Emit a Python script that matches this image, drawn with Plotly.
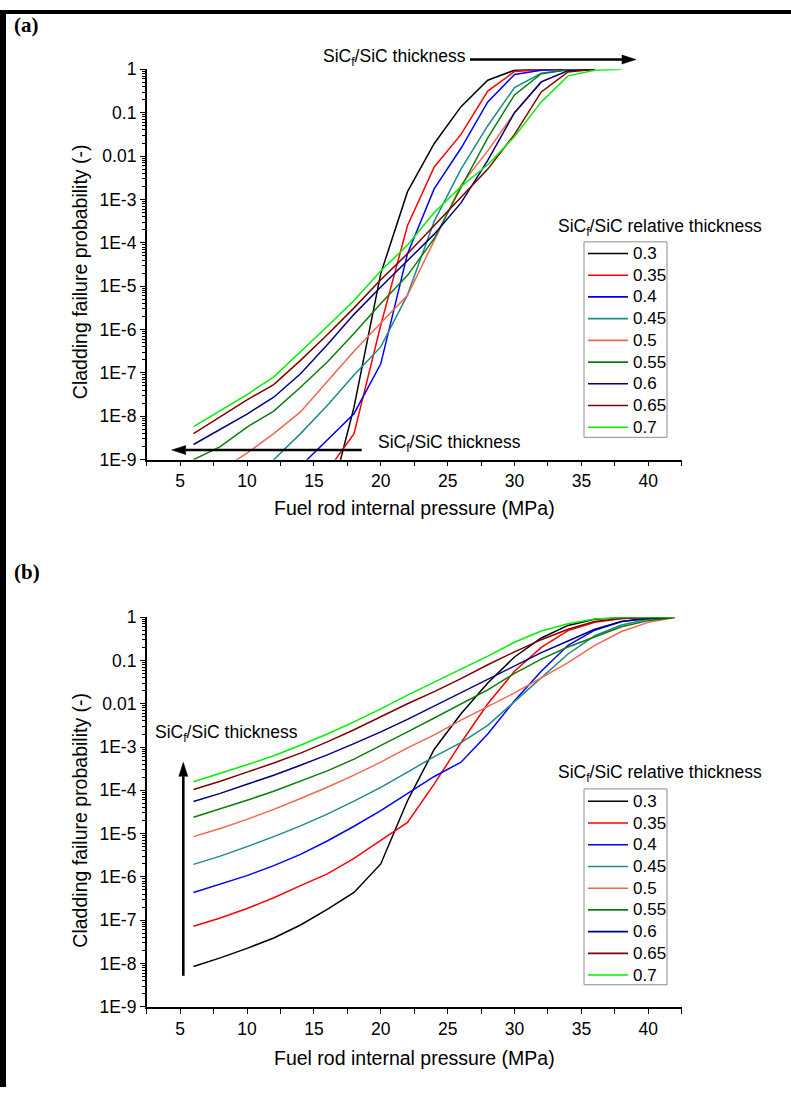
import plotly.graph_objects as go

# ---------------- data ----------------
THICKNESS = ["0.3", "0.35", "0.4", "0.45", "0.5", "0.55", "0.6", "0.65", "0.7"]
COLORS = ["#000000", "#FF0000", "#0000FF", "#1E8A8A", "#F2674F",
          "#0A7F0A", "#00007F", "#7F0000", "#00F000"]

# Panel (a): log10 of failure probability
PRESSURE_A = [6, 8, 10, 12, 14, 16, 18, 20, 22, 24, 26, 28, 30, 32, 34, 36, 38]
A_030 = [None, None, None, None, None, -10.2, -7.79, -4.71, -2.82, -1.71, -0.86, -0.25, -0.02, 0, 0, 0, None]
A_035 = [None, None, None, None, None, -9.26, -8.4, -5.9, -3.6, -2.25, -1.5, -0.5, -0.05, -0.01, 0, 0, None]
A_040 = [None, None, None, None, -9.15, -8.55, -7.94, -6.79, -4.25, -2.75, -1.82, -0.75, -0.12, -0.02, 0, 0, None]
A_045 = [None, None, -9.6, -9.0, -8.4, -7.75, -7.05, -6.4, -5.2, -3.5, -2.3, -1.3, -0.42, -0.09, -0.01, 0, None]
A_050 = [None, -9.25, -8.85, -8.4, -7.9, -7.2, -6.5, -5.85, -5.21, -3.95, -2.67, -1.88, -1.0, -0.29, -0.03, 0, None]
A_055 = [-9.0, -8.7, -8.25, -7.88, -7.33, -6.75, -6.09, -5.4, -4.75, -3.9, -2.72, -1.58, -0.59, -0.1, -0.01, 0, None]
A_060 = [-8.65, -8.3, -7.95, -7.56, -7.02, -6.35, -5.65, -5.02, -4.42, -3.8, -3.08, -2.1, -1.0, -0.29, -0.03, 0, None]
A_065 = [-8.4, -8.0, -7.62, -7.27, -6.71, -6.12, -5.5, -4.85, -4.25, -3.6, -2.95, -2.3, -1.5, -0.52, -0.06, 0, None]
A_070 = [-8.24, -7.88, -7.5, -7.09, -6.52, -5.93, -5.33, -4.65, -4.05, -3.3, -2.7, -2.2, -1.55, -0.75, -0.15, -0.02, 0]

# Panel (b): log10 of failure probability
PRESSURE_B = [6, 8, 10, 12, 14, 16, 18, 20, 22, 24, 26, 28, 30, 32, 34, 36, 38, 40, 42]
B_030 = [-8.07, -7.87, -7.65, -7.41, -7.11, -6.75, -6.36, -5.70, -4.24, -3.05, -2.23, -1.52, -0.92, -0.48, -0.19, -0.05, -0.01, 0, 0]
B_035 = [-7.14, -6.95, -6.73, -6.48, -6.2, -5.93, -5.57, -5.16, -4.74, -3.85, -2.9, -2.0, -1.25, -0.7, -0.31, -0.12, -0.03, -0.01, 0]
B_040 = [-6.36, -6.17, -5.97, -5.74, -5.48, -5.17, -4.83, -4.47, -4.07, -3.68, -3.35, -2.7, -1.93, -1.25, -0.65, -0.3, -0.1, -0.02, 0]
B_045 = [-5.71, -5.52, -5.30, -5.07, -4.82, -4.55, -4.25, -3.93, -3.58, -3.22, -2.9, -2.5, -1.95, -1.4, -0.85, -0.43, -0.18, -0.05, 0]
B_050 = [-5.07, -4.88, -4.67, -4.44, -4.19, -3.93, -3.65, -3.35, -3.02, -2.72, -2.38, -2.07, -1.75, -1.4, -1.05, -0.65, -0.33, -0.12, -0.01]
B_055 = [-4.62, -4.43, -4.23, -4.02, -3.79, -3.55, -3.28, -2.97, -2.65, -2.33, -2.0, -1.68, -1.3, -0.97, -0.69, -0.45, -0.22, -0.08, 0]
B_060 = [-4.26, -4.07, -3.86, -3.65, -3.42, -3.18, -2.92, -2.65, -2.36, -2.05, -1.75, -1.43, -1.12, -0.82, -0.55, -0.28, -0.1, -0.03, 0]
B_065 = [-3.98, -3.79, -3.58, -3.37, -3.14, -2.88, -2.6, -2.3, -2.0, -1.72, -1.42, -1.1, -0.8, -0.52, -0.28, -0.1, -0.03, -0.01, 0]
B_070 = [-3.80, -3.61, -3.41, -3.2, -2.96, -2.7, -2.42, -2.12, -1.8, -1.5, -1.2, -0.9, -0.58, -0.32, -0.15, -0.04, -0.01, 0, 0]

Y_TICKVALS = [1, 0.1, 0.01, 1e-3, 1e-4, 1e-5, 1e-6, 1e-7, 1e-8, 1e-9]
Y_TICKTEXT = ["1", "0.1", "0.01", "1E-3", "1E-4", "1E-5", "1E-6", "1E-7", "1E-8", "1E-9"]
X_TICKVALS = [5, 10, 15, 20, 25, 30, 35, 40]
X_MINOR = [2.5, 7.5, 12.5, 17.5, 22.5, 27.5, 32.5, 37.5, 42.5]

SERIES_A = [A_030, A_035, A_040, A_045, A_050, A_055, A_060, A_065, A_070]
SERIES_B = [B_030, B_035, B_040, B_045, B_050, B_055, B_060, B_065, B_070]

W, H = 791, 1097
# the captured picture shows the page slightly squeezed vertically; map target pixels accordingly
V_OFF, V_SCALE = 10.0, 0.981

def px(x):
    return x / W

def py(y):
    return 1 - ((y - V_OFF) / V_SCALE) / H

def to_p(vals):
    return [None if v is None else 10 ** v for v in vals]

FONT = "Arial, Liberation Sans, sans-serif"

fig = go.Figure()
for name, col, ya in zip(THICKNESS, COLORS, SERIES_A):
    fig.add_trace(go.Scatter(x=PRESSURE_A, y=to_p(ya), mode="lines", name=name,
                             line=dict(color=col, width=1.5), xaxis="x", yaxis="y",
                             showlegend=False))
for name, col, yb in zip(THICKNESS, COLORS, SERIES_B):
    fig.add_trace(go.Scatter(x=PRESSURE_B, y=to_p(yb), mode="lines", name=name,
                             line=dict(color=col, width=1.5), xaxis="x2", yaxis="y2",
                             showlegend=False))

minor_y = [k * 10.0 ** e for e in range(-9, 0) for k in range(2, 10)]

def xaxis_cfg(anchor):
    return dict(domain=[px(146.7), px(681.7)], anchor=anchor, range=[2.5, 42.5],
                showgrid=False, zeroline=False, showline=True, linecolor="black", linewidth=1.6,
                ticks="outside", ticklen=5, tickwidth=1.3, tickcolor="black",
                tickvals=X_TICKVALS, tickfont=dict(family=FONT, size=17.5, color="black"),
                minor=dict(tickvals=X_MINOR, ticks="outside", ticklen=5, tickwidth=1.3,
                           tickcolor="black", showgrid=False))

def yaxis_cfg(anchor, top, bottom):
    return dict(domain=[py(bottom), py(top)], anchor=anchor, type="log", range=[-9, 0],
                showgrid=False, zeroline=False, showline=True, linecolor="black", linewidth=1.6,
                ticks="outside", ticklen=5, tickwidth=1.3, tickcolor="black",
                tickvals=Y_TICKVALS, ticktext=Y_TICKTEXT,
                tickfont=dict(family=FONT, size=17.5, color="black"),
                minor=dict(tickvals=minor_y, ticks="outside", ticklen=3, tickwidth=1,
                           tickcolor="black", showgrid=False))

fig.update_layout(
    width=W, height=H, margin=dict(l=0, r=0, t=0, b=0),
    paper_bgcolor="white", plot_bgcolor="white", showlegend=False,
    xaxis=xaxis_cfg("y"), yaxis=yaxis_cfg("x", 69.3, 459.3),
    xaxis2=xaxis_cfg("y2"), yaxis2=yaxis_cfg("x2", 616.7, 1006),
)

ann = []
shapes = []
# panel labels
for lab, yc in (("(a)", 25), ("(b)", 572)):
    ann.append(dict(text="<b>" + lab + "</b>", x=px(12), y=py(yc), xanchor="left", yanchor="middle",
                    font=dict(family="Liberation Serif, Times New Roman, serif", size=21, color="black")))
# axis titles
for yc in (272, 820):
    ann.append(dict(text="Cladding failure probability (-)", x=px(80), y=py(yc), textangle=-90,
                    xanchor="center", yanchor="middle", font=dict(family=FONT, size=19.5, color="black")))
for yc in (508, 1057):
    ann.append(dict(text="Fuel rod internal pressure (MPa)", x=px(414), y=py(yc),
                    xanchor="center", yanchor="middle", font=dict(family=FONT, size=19.5, color="black")))

# legends (title above a framed box), one per panel
for title_y, box_top, box_bot, first_y in ((227, 241.7, 437, 253.3), (773, 788.3, 984, 800.7)):
    ann.append(dict(text="SiC<sub>f</sub>/SiC relative thickness", x=px(660), y=py(title_y),
                    xanchor="center", yanchor="middle", font=dict(family=FONT, size=17.5, color="black")))
    shapes.append(dict(type="rect", xref="paper", yref="paper", x0=px(584), x1=px(667),
                       y0=py(box_bot), y1=py(box_top), line=dict(color="#8c8c8c", width=1),
                       fillcolor="white", layer="below"))
    for i, (name, col) in enumerate(zip(THICKNESS, COLORS)):
        yy = first_y + i * 21.7
        shapes.append(dict(type="line", xref="paper", yref="paper", x0=px(588), x1=px(628),
                           y0=py(yy), y1=py(yy), line=dict(color=col, width=1.6)))
        ann.append(dict(text=name, x=px(631), y=py(yy), xanchor="left", yanchor="middle",
                        font=dict(family=FONT, size=17, color="black")))

# thickness labels
ann.append(dict(text="SiC<sub>f</sub>/SiC thickness", x=px(321), y=py(57), xanchor="left", yanchor="middle",
                font=dict(family=FONT, size=17.5, color="black")))
ann.append(dict(text="SiC<sub>f</sub>/SiC thickness", x=px(376), y=py(443), xanchor="left", yanchor="middle",
                font=dict(family=FONT, size=17.5, color="black")))
ann.append(dict(text="SiC<sub>f</sub>/SiC thickness", x=px(227), y=py(733), xanchor="center", yanchor="middle",
                font=dict(family=FONT, size=17.5, color="black")))
for a in ann:
    a.setdefault("xref", "paper")
    a.setdefault("yref", "paper")
    a.setdefault("showarrow", False)

# thickness arrows (shaft + filled head)
def h_arrow(x_tail, x_tip, y, head=14, half=4.5):
    d = -1 if x_tip < x_tail else 1
    base = x_tip - d * head
    return [
        dict(type="line", xref="paper", yref="paper", x0=px(x_tail), x1=px(base), y0=py(y), y1=py(y),
             line=dict(color="black", width=2.6)),
        dict(type="path", xref="paper", yref="paper", fillcolor="black", line=dict(color="black", width=0.5),
             path="M %f,%f L %f,%f L %f,%f Z" % (px(x_tip), py(y), px(base), py(y - half), px(base), py(y + half))),
    ]

def v_arrow(x, y_tail, y_tip, head=14, half=4.5):
    base = y_tip + head
    return [
        dict(type="line", xref="paper", yref="paper", x0=px(x), x1=px(x), y0=py(y_tail), y1=py(base),
             line=dict(color="black", width=2.6)),
        dict(type="path", xref="paper", yref="paper", fillcolor="black", line=dict(color="black", width=0.5),
             path="M %f,%f L %f,%f L %f,%f Z" % (px(x), py(y_tip), px(x - half), py(base), px(x + half), py(base))),
    ]

shapes += h_arrow(470, 636, 59.5)
shapes += h_arrow(361.7, 171.7, 449.7)
shapes += v_arrow(183.3, 975, 761.7)

# black frame strips at the left and top edges of the picture
shapes += [
    dict(type="rect", xref="paper", yref="paper", x0=0, x1=px(6), y0=0, y1=1,
         fillcolor="black", line=dict(width=0), layer="above"),
    dict(type="rect", xref="paper", yref="paper", x0=0, x1=1, y0=1 - 4 / H, y1=1,
         fillcolor="black", line=dict(width=0), layer="above"),
]
fig.update_layout(annotations=ann, shapes=shapes)

js = "document.documentElement.style.margin='0px';document.body.style.margin='0px';document.body.style.overflow='hidden';"
fig.write_html("out.html", post_script=js, config={"displayModeBar": False})
